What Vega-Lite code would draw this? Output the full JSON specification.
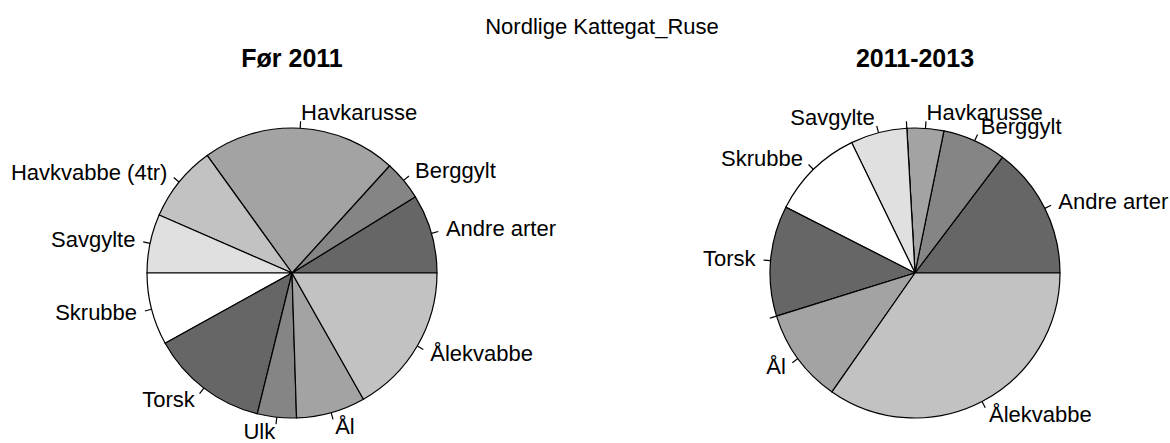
{
  "$schema": "https://vega.github.io/schema/vega-lite/v6.json",
  "autosize": {"type": "none"},
  "width": 1170,
  "height": 340,
  "padding": {"top": 103, "left": 0, "right": 0, "bottom": 0},
  "background": "white",
  "title": {
    "text": "Nordlige Kattegat_Ruse",
    "frame": "group",
    "anchor": "middle",
    "orient": "top",
    "offset": -9,
    "dx": 17,
    "baseline": "alphabetic",
    "font": "Liberation Sans",
    "fontSize": 22,
    "fontWeight": "normal",
    "color": "black"
  },
  "data": {
    "values": [
      {"period": "Før 2011", "species": "Andre arter", "pct": 8.8},
      {"period": "Før 2011", "species": "Berggylt", "pct": 4.45},
      {"period": "Før 2011", "species": "Havkarusse", "pct": 21.7},
      {"period": "Før 2011", "species": "Havkvabbe (4tr)", "pct": 8.5},
      {"period": "Før 2011", "species": "Savgylte", "pct": 6.55},
      {"period": "Før 2011", "species": "Skrubbe", "pct": 8.05},
      {"period": "Før 2011", "species": "Torsk", "pct": 13.1},
      {"period": "Før 2011", "species": "Ulk", "pct": 4.35},
      {"period": "Før 2011", "species": "Ål", "pct": 7.7},
      {"period": "Før 2011", "species": "Ålekvabbe", "pct": 16.8},
      {"period": "2011-2013", "species": "Andre arter", "pct": 14.7},
      {"period": "2011-2013", "species": "Berggylt", "pct": 7.1},
      {"period": "2011-2013", "species": "Havkarusse", "pct": 4.1},
      {"period": "2011-2013", "species": "Havkvabbe (4tr)", "pct": 0},
      {"period": "2011-2013", "species": "Savgylte", "pct": 6.3},
      {"period": "2011-2013", "species": "Skrubbe", "pct": 10.3},
      {"period": "2011-2013", "species": "Torsk", "pct": 12.3},
      {"period": "2011-2013", "species": "Ulk", "pct": 0},
      {"period": "2011-2013", "species": "Ål", "pct": 10.5},
      {"period": "2011-2013", "species": "Ålekvabbe", "pct": 34.7}
    ]
  },
  "transform": [
    {"stack": "pct", "groupby": ["period"], "sort": [{"field": "species", "order": "ascending"}], "as": ["p0", "p1"]},
    {"calculate": "(datum.p0 + datum.p1) / 2", "as": "pm"}
  ],
  "encoding": {
    "x": {
      "field": "period",
      "type": "nominal",
      "scale": {"type": "point", "padding": 0, "domain": ["Før 2011", "2011-2013"], "range": [292, 915]},
      "axis": null
    }
  },
  "layer": [
    {
      "mark": {"type": "arc", "radius": 145, "stroke": "black", "strokeWidth": 1.2},
      "encoding": {
        "theta": {"field": "p0", "type": "quantitative", "stack": null, "scale": {"domain": [0, 100], "range": [1.5707963, -4.712389]}},
        "theta2": {"field": "p1"},
        "color": {
          "field": "species",
          "type": "nominal",
          "scale": {
            "domain": ["Andre arter", "Berggylt", "Havkarusse", "Havkvabbe (4tr)", "Savgylte", "Skrubbe", "Torsk", "Ulk", "Ål", "Ålekvabbe"],
            "range": ["#666666", "#858585", "#A3A3A3", "#C2C2C2", "#E0E0E0", "#FFFFFF", "#666666", "#858585", "#A3A3A3", "#C2C2C2"]
          },
          "legend": null
        }
      }
    },
    {
      "mark": {"type": "arc", "radius": 145, "radius2": 152, "fill": null, "stroke": "black", "strokeWidth": 1.2},
      "encoding": {
        "theta": {"field": "pm", "type": "quantitative", "stack": null},
        "theta2": {"field": "pm"}
      }
    },
    {
      "transform": [{"filter": "datum.pct > 0 && (datum.pm < 25 || datum.pm > 75)"}],
      "mark": {"type": "text", "radius": 160, "align": "left", "baseline": "middle", "font": "Liberation Sans", "fontSize": 22, "color": "black"},
      "encoding": {
        "theta": {"field": "pm", "type": "quantitative", "stack": null},
        "text": {"field": "species"}
      }
    },
    {
      "transform": [{"filter": "datum.pct > 0 && datum.pm >= 25 && datum.pm <= 75"}],
      "mark": {"type": "text", "radius": 160, "align": "right", "baseline": "middle", "font": "Liberation Sans", "fontSize": 22, "color": "black"},
      "encoding": {
        "theta": {"field": "pm", "type": "quantitative", "stack": null},
        "text": {"field": "species"}
      }
    },
    {
      "transform": [{"aggregate": [{"op": "count", "as": "n"}], "groupby": ["period"]}],
      "mark": {"type": "text", "dy": -206, "align": "center", "baseline": "alphabetic", "font": "Liberation Sans", "fontSize": 25, "fontWeight": "bold", "color": "black"},
      "encoding": {
        "text": {"field": "period"}
      }
    }
  ],
  "config": {"view": {"stroke": null}}
}
